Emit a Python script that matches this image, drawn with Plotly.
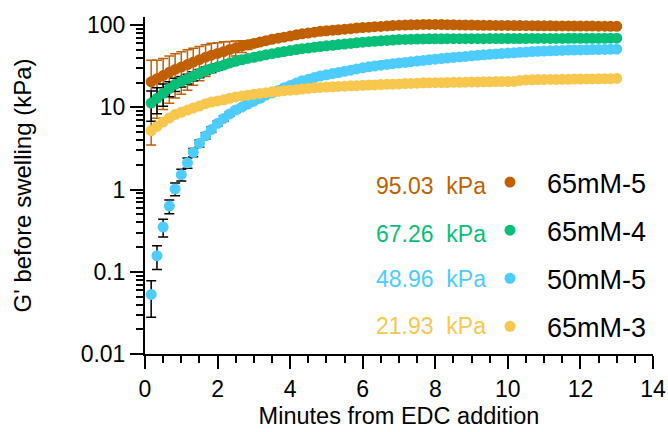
import plotly.graph_objects as go

# ---------------- data ----------------
minutes = [0.17, 0.33, 0.50, 0.67, 0.83, 1.00, 1.17, 1.33, 1.50, 1.67, 1.83, 2.00,
           2.17, 2.33, 2.50, 2.67, 2.83, 3.00, 3.17, 3.33, 3.50, 3.67, 3.83, 4.00,
           4.17, 4.33, 4.50, 4.67, 4.83, 5.00, 5.17, 5.33, 5.50, 5.67, 5.83, 6.00,
           6.17, 6.33, 6.50, 6.67, 6.83, 7.00, 7.17, 7.33, 7.50, 7.67, 7.83, 8.00,
           8.17, 8.33, 8.50, 8.67, 8.83, 9.00, 9.17, 9.33, 9.50, 9.67, 9.83, 10.00,
           10.17, 10.33, 10.50, 10.67, 10.83, 11.00, 11.17, 11.33, 11.50, 11.67, 11.83, 12.00,
           12.17, 12.33, 12.50, 12.67, 12.83, 13.00]

g_65mM_5 = [20.5, 22.4, 24.4, 26.7, 29.0, 31.0,
            33.2, 35.6, 38.1, 40.8, 43.2, 45.4,
            47.9, 50.5, 53.1, 55.7, 57.8, 60.1,
            62.4, 64.9, 67.3, 69.5, 71.6, 73.9,
            76.4, 78.5, 80.4, 82.4, 84.3, 85.5,
            86.9, 88.1, 89.5, 90.8, 92.3, 93.5,
            94.8, 95.9, 96.8, 97.9, 98.9, 100.0,
            100.5, 101.1, 101.6, 102.1, 102.3, 102.1,
            101.9, 101.6, 101.2, 100.9, 100.6, 100.3,
            100.0, 99.8, 99.7, 99.5, 99.4, 99.3,
            99.1, 99.0, 98.8, 98.7, 98.5, 98.4,
            98.2, 98.1, 98.0, 97.9, 97.8, 97.7,
            97.6, 97.5, 97.4, 97.3, 97.1, 97.0]
sd_65mM_5 = [17, 15, 15, 15.5, 16, 16.5,
             17, 17, 17, 17, 17, 16,
             15, 13, 11, 9, 7, 6,
             5.5, 5.5, 5, 5, 5, 5,
             4.5, 4.5, 4.5, 4.5, 4.5, 4.5,
             4, 4, 4, 4, 4, 4,
             4, 4, 4, 4, 4, 4,
             4, 4, 4, 4, 4, 4,
             4, 4, 4, 4, 4, 4,
             4, 4, 4, 4, 4, 4,
             4, 4, 4, 4, 4, 4,
             4, 4, 4, 4, 4, 4,
             4, 4, 4, 4, 4, 4]

g_65mM_4 = [11.3, 12.9, 14.8, 17.0, 19.1, 20.7,
            22.3, 24.1, 26.0, 28.1, 29.6, 31.2,
            32.8, 34.6, 36.4, 38.0, 39.4, 40.7,
            42.1, 43.6, 45.1, 46.5, 47.8, 49.1,
            50.5, 51.8, 52.8, 54.0, 55.1, 56.1,
            57.0, 58.1, 59.0, 60.1, 61.1, 62.2,
            63.1, 63.8, 64.6, 65.3, 66.1, 66.8,
            67.1, 67.6, 67.9, 68.2, 68.4, 68.4,
            68.4, 68.5, 68.5, 68.5, 68.5, 68.6,
            68.6, 68.6, 68.7, 68.7, 68.8, 68.8,
            68.8, 68.9, 68.9, 69.0, 69.0, 69.0,
            69.1, 69.1, 69.1, 69.2, 69.2, 69.2,
            69.3, 69.3, 69.4, 69.4, 69.5, 69.5]
sd_65mM_4 = [4.5, 4.5, 4.5, 3.5, 3.5, 3.0,
             3.0, 3.0, 3.0, 3.0, 2.8, 2.8,
             2.5, 2.5, 2.5, 2.5, 2.5, 2.5,
             2.5, 2.5, 2.5, 2.5, 2.5, 2.5,
             2.5, 2.5, 2.5, 2.5, 2.5, 2.5,
             2.5, 2.5, 2.5, 2.5, 2.5, 2.5,
             2.5, 2.5, 2.5, 2.5, 2.5, 2.5,
             2.5, 2.5, 2.5, 2.5, 2.5, 2.5,
             2.5, 2.5, 2.5, 2.5, 2.5, 2.5,
             2.5, 2.5, 2.5, 2.5, 2.5, 2.5,
             2.5, 2.5, 2.5, 2.5, 2.5, 2.5,
             2.5, 2.5, 2.5, 2.5, 2.5, 2.5,
             2.5, 2.5, 2.5, 2.5, 2.5, 2.5]

g_50mM_5 = [0.053, 0.157, 0.35, 0.63, 1.02, 1.52,
            2.12, 2.84, 3.66, 4.52, 5.4, 6.4,
            7.35, 8.3, 9.3, 10.1, 11.0, 11.9,
            12.9, 14.1, 15.0, 16.1, 17.3, 18.5,
            19.8, 21.1, 22.0, 23.1, 24.1, 24.9,
            25.8, 26.6, 27.5, 28.4, 29.4, 30.3,
            31.2, 31.8, 32.6, 33.3, 34.0, 34.7,
            35.3, 36.0, 36.6, 37.3, 38.0, 38.6,
            39.3, 39.8, 40.5, 41.1, 41.7, 42.4,
            43.1, 43.6, 44.2, 44.8, 45.3, 45.8,
            46.2, 46.8, 47.2, 47.8, 48.2, 48.5,
            48.8, 49.1, 49.4, 49.8, 49.9, 50.1,
            50.2, 50.5, 50.6, 50.8, 50.9, 51.1]
sd_50mM_5 = [0.025, 0.05, 0.085, 0.12, 0.18, 0.25,
             0.3, 0.33, 0.35, 0.4, 0.4, 0.45,
             0.5, 0.5, 0.6, 0.6, 0.7, 0.7,
             0.8, 0.8, 0.9, 0.9, 1.0, 1.0,
             1.0, 1.0, 1.0, 1.0, 1.0, 1.0,
             1.0, 1.0, 1.0, 1.0, 1.0, 1.0,
             1.0, 1.0, 1.0, 1.0, 1.0, 1.0,
             1.0, 1.0, 1.0, 1.0, 1.0, 1.0,
             1.0, 1.0, 1.0, 1.0, 1.0, 1.0,
             1.0, 1.0, 1.0, 1.0, 1.0, 1.0,
             1.0, 1.0, 1.0, 1.0, 1.0, 1.0,
             1.0, 1.0, 1.0, 1.0, 1.0, 1.0,
             1.0, 1.0, 1.0, 1.0, 1.0, 1.0]

g_65mM_3 = [5.2, 5.87, 6.64, 7.43, 8.2, 8.73,
            9.27, 9.84, 10.4, 11.1, 11.6, 12.0,
            12.4, 12.9, 13.4, 13.8, 14.1, 14.5,
            14.8, 15.1, 15.5, 15.7, 16.0, 16.2,
            16.4, 16.7, 17.0, 17.3, 17.5, 17.7,
            17.8, 18.0, 18.1, 18.3, 18.4, 18.6,
            18.7, 18.8, 19.0, 19.1, 19.2, 19.3,
            19.5, 19.6, 19.7, 19.9, 19.95, 20.0,
            20.0, 20.1, 20.2, 20.2, 20.3, 20.4,
            20.4, 20.5, 20.5, 20.6, 20.6, 20.6,
            20.7, 21.3, 21.6, 21.7, 21.8, 21.8,
            21.9, 21.9, 22.0, 22.0, 22.1, 22.1,
            22.2, 22.2, 22.3, 22.4, 22.4, 22.5]

series_names = ["65mM-5", "65mM-4", "50mM-5", "65mM-3"]
final_labels = ["95.03\u00a0\u00a0kPa", "67.26\u00a0\u00a0kPa", "48.96\u00a0\u00a0kPa", "21.93\u00a0\u00a0kPa"]

x_tick_vals = [0, 2, 4, 6, 8, 10, 12, 14]
x_tick_text = ["0", "2", "4", "6", "8", "10", "12", "14"]
y_tick_vals = [0.01, 0.1, 1, 10, 100]
y_tick_text = ["0.01", "0.1", "1", "10", "100"]

# ---------------- styling ----------------
FONT = "Liberation Sans, Arial, sans-serif"
colors = ["#C06000", "#08BF78", "#4DCCFF", "#F8C74E"]
err_colors = ["#C06000", "#000000", "#000000", "#F8C74E"]
values = [g_65mM_5, g_65mM_4, g_50mM_5, g_65mM_3]
sds = [sd_65mM_5, sd_65mM_4, sd_50mM_5, None]

fig = go.Figure()
for name, vals, sd, col, ecol in zip(series_names, values, sds, colors, err_colors):
    err = dict(type="data", array=sd, visible=True, color=ecol,
               thickness=1.5, width=5) if sd is not None else dict(visible=False)
    fig.add_trace(go.Scatter(
        x=minutes, y=vals, mode="markers", name=name, legendgroup=name,
        marker=dict(color=col, size=11, line=dict(width=0)),
        error_y=err, cliponaxis=False))

# plot-area geometry (px) for placing the value labels
L, R, T, B, W, H = 145, 15, 17, 78, 668, 432
pw, ph = W - L - R, H - T - B
label_right_px = 488
row_centers_px = [186, 233.5, 278.5, 325.5]
for txt, col, yc in zip(final_labels, colors, row_centers_px):
    fig.add_annotation(text=txt, xref="paper", yref="paper",
                       x=(label_right_px - L) / pw, y=(H - B - yc) / ph,
                       xanchor="right", yanchor="middle", showarrow=False,
                       font=dict(family=FONT, size=23, color=col))

minor_y = [m * 10 ** e for e in range(-2, 3) for m in range(2, 10) if m * 10 ** e <= 125]

fig.update_layout(
    width=W, height=H,
    margin=dict(l=L, r=R, t=T, b=B, autoexpand=False),
    paper_bgcolor="white", plot_bgcolor="white",
    font=dict(family=FONT, size=23, color="black"),
    showlegend=True,
    legend=dict(x=(473 - L) / pw, y=(H - B - 158) / ph, xanchor="left", yanchor="top",
                font=dict(family=FONT, size=27, color="black"),
                itemwidth=64, tracegroupgap=10, traceorder="grouped",
                bgcolor="rgba(0,0,0,0)", borderwidth=0),
    xaxis=dict(range=[0, 14], tickmode="array", tickvals=x_tick_vals, ticktext=x_tick_text,
               ticks="outside", ticklen=13, tickwidth=2, tickcolor="black",
               showline=True, linewidth=2, linecolor="black",
               showgrid=False, zeroline=False, automargin=False,
               minor=dict(dtick=0.5, tick0=0, ticks="outside", ticklen=7, tickwidth=1.5,
                          tickcolor="black", showgrid=False),
               tickfont=dict(size=23),
               title=dict(text="Minutes from EDC addition", font=dict(size=23.5), standoff=7)),
    yaxis=dict(type="log", range=[-2, 2.1], tickmode="array", tickvals=y_tick_vals,
               ticktext=y_tick_text,
               ticks="outside", ticklen=13, tickwidth=2, tickcolor="black",
               showline=True, linewidth=2, linecolor="black",
               showgrid=False, zeroline=False, automargin=False,
               minor=dict(tickmode="array", tickvals=minor_y, ticks="outside", ticklen=7,
                          tickwidth=1.5, tickcolor="black", showgrid=False),
               tickfont=dict(size=23),
               title=dict(text="G' before swelling (kPa)", font=dict(size=24), standoff=42)),
)

fig.write_html("out.html")
